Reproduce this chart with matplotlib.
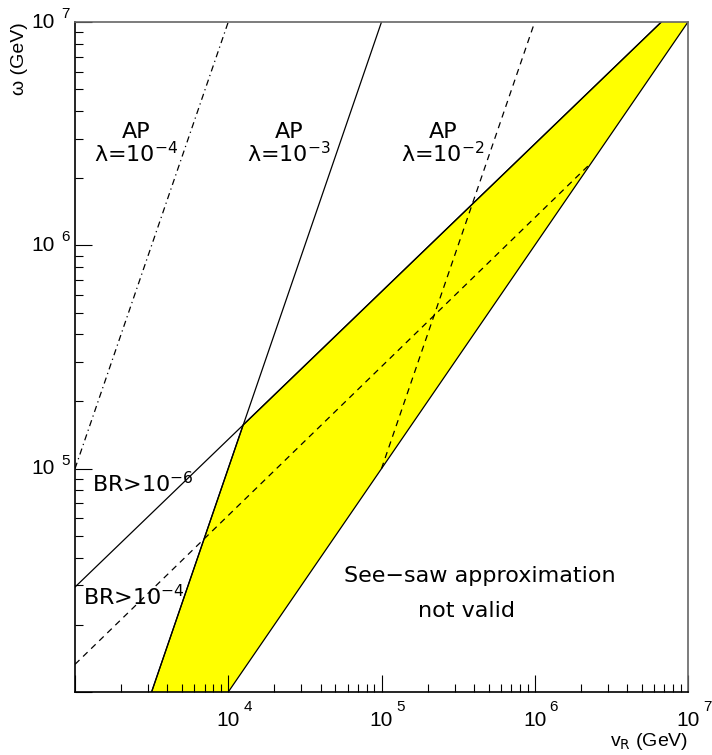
import numpy as np
import matplotlib
matplotlib.use("Agg")
import matplotlib.pyplot as plt
from matplotlib.transforms import offset_copy

plt.rcParams["font.family"] = ["Liberation Sans", "DejaVu Sans"]
plt.rcParams["mathtext.fontset"] = "dejavusans"

# curve endpoints (v_R, omega in GeV)
ap4_v = [1e3, 1e4]
ap4_w = [1e5, 1e7]
ap3_v = [3.16e3, 1e5]
ap3_w = [1e4, 1e7]
ap2_v = [1e5, 1e6]
ap2_w = [1e5, 1e7]
br6_v = [1e3, 6.7e6]
br6_w = [2.95e4, 1e7]
br4_v = [1e3, 2.35e6]
br4_w = [1.33e4, 2.35e6]
diag_v = [1e4, 1e7]
diag_w = [1e4, 1e7]

# allowed band (yellow)
band_v = [3.16e3, 1.25e4, 6.7e6, 1e7, 1e4]
band_w = [1e4, 1.57e5, 1e7, 1e7, 1e4]

xticks = [1e4, 1e5, 1e6, 1e7]
xexp = ["4", "5", "6", "7"]
yticks = [1e5, 1e6, 1e7]
yexp = ["5", "6", "7"]

fig = plt.figure(figsize=(7.12, 7.55), dpi=100)
ax = fig.add_axes([75 / 712, 63 / 755, 613 / 712, 670 / 755])
ax.set_xscale("log")
ax.set_yscale("log")
ax.set_xlim(1e3, 1e7)
ax.set_ylim(1e4, 1e7)

ax.fill(band_v, band_w, color="#ffff00", lw=0, zorder=1)
lw = 0.9
ax.plot(band_v[:3], band_w[:3], color="black", lw=lw, zorder=2)
ax.plot(diag_v, diag_w, color="black", lw=lw, zorder=2)
ax.plot(ap3_v, ap3_w, color="black", lw=lw, zorder=2)
ax.plot(br6_v, br6_w, color="black", lw=lw, zorder=2)
ax.plot(ap4_v, ap4_w, color="black", lw=lw, dashes=(5, 3, 1, 3), zorder=2)
ax.plot(ap2_v, ap2_w, color="black", lw=lw, dashes=(5, 4), zorder=2)
ax.plot(br4_v, br4_w, color="black", lw=lw, dashes=(5, 4), zorder=2)

# frame and ticks in ROOT style
for s in ["top", "right"]:
    ax.spines[s].set_color("#666666")
for s in ["left", "bottom"]:
    ax.spines[s].set_color("black")
for s in ax.spines.values():
    s.set_linewidth(1.2)
ax.tick_params(which="both", direction="in", top=False, right=False,
               labelbottom=False, labelleft=False, width=0.8)
ax.tick_params(which="major", length=12)
ax.tick_params(which="minor", length=6)

fs = 15
for t, e in zip(xticks, xexp):
    tr = offset_copy(ax.transData, fig=fig, x=0, y=-29, units="dots")
    ax.text(t, 1e4, "10", transform=tr, ha="center", va="center", fontsize=fs, clip_on=False)
    tr2 = offset_copy(ax.transData, fig=fig, x=15, y=-15, units="dots")
    ax.text(t, 1e4, e, transform=tr2, ha="left", va="center", fontsize=11, clip_on=False)
for t, e in zip(yticks, yexp):
    tr = offset_copy(ax.transData, fig=fig, x=-20, y=0, units="dots")
    ax.text(1e3, t, "10", transform=tr, ha="right", va="center", fontsize=fs, clip_on=False)
    tr2 = offset_copy(ax.transData, fig=fig, x=-14, y=8, units="dots")
    ax.text(1e3, t, e, transform=tr2, ha="left", va="center", fontsize=11, clip_on=False)

fig.text(20 / 712, 1 - 22 / 755, "\u03c9 (GeV)", rotation=90, ha="center", va="top", fontsize=14)
fig.text(688 / 712, 1 - 742 / 755, r"v$_{\mathrm{R}}$ (GeV)", ha="right", va="center", fontsize=14)

tf = 16
def atext(px, py, s, ha="center"):
    fig.text(px / 712, 1 - py / 755, s, ha=ha, va="baseline", fontsize=tf,
             family="DejaVu Sans")

atext(136, 138, "AP")
atext(136, 162, "\u03bb=10$^{-4}$")
atext(289, 138, "AP")
atext(289, 162, "\u03bb=10$^{-3}$")
atext(443, 138, "AP")
atext(443, 162, "\u03bb=10$^{-2}$")
atext(92, 492, "BR>10$^{-6}$", ha="left")
atext(83, 605, "BR>10$^{-4}$", ha="left")
atext(480, 582, "See\u2212saw approximation")
atext(467, 617, "not valid")

fig.savefig("out.png", dpi=100)
